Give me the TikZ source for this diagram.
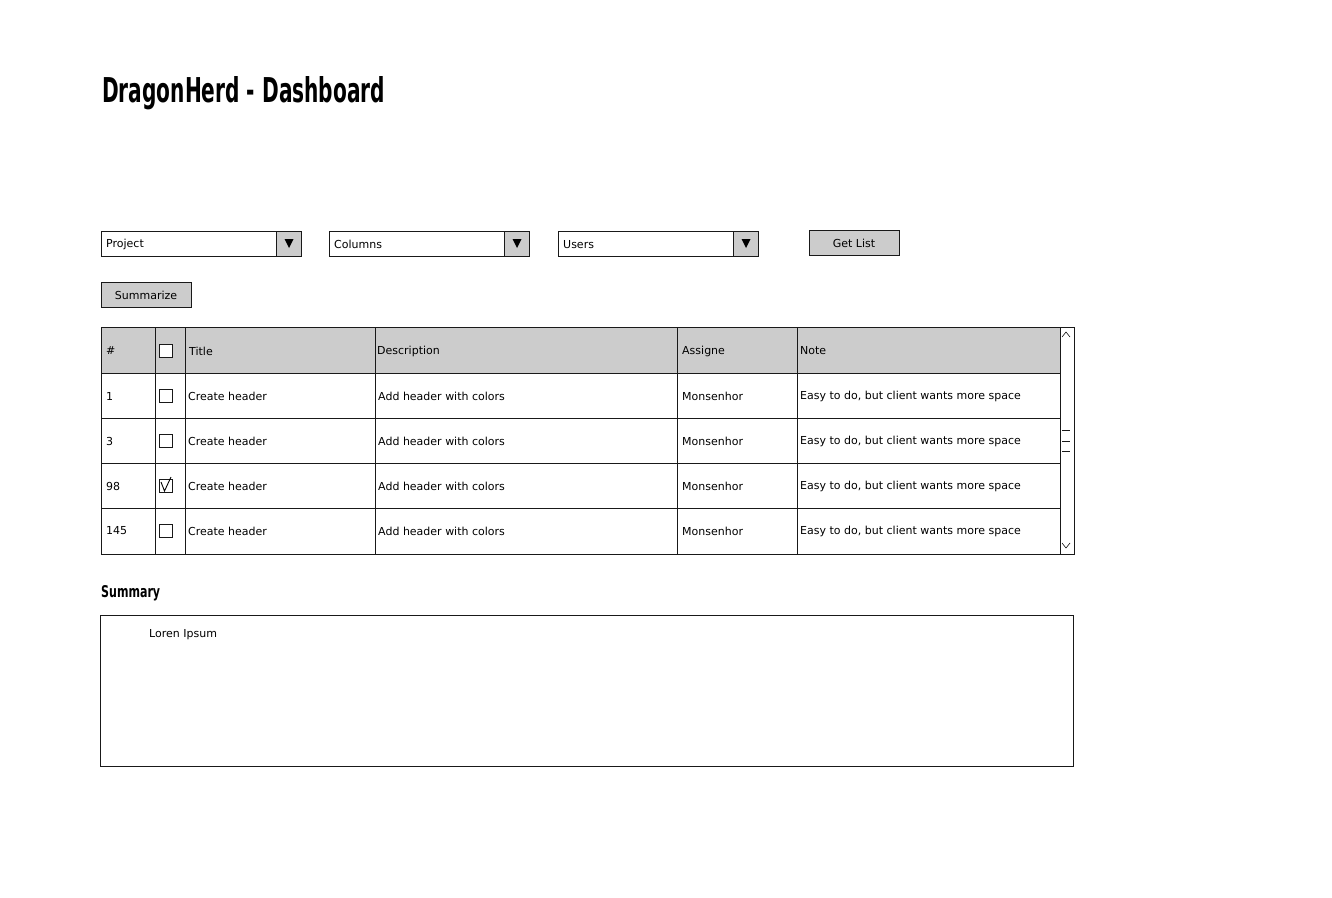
\documentclass[tikz,border=0pt]{standalone}
\usepackage{fontspec}
\setmainfont{DejaVu Sans}
\usepackage{graphicx}

\begin{document}
\begin{tikzpicture}[x=1pt,y=-1pt]
\tikzset{ui/.style={draw=black!90,line width=0.9pt},
  btnbox/.style={ui,fill=black!20,minimum width=90pt,minimum height=25pt,inner sep=0pt,font=\fontsize{11}{13}\selectfont},
  txt/.style={anchor=west,inner sep=0pt,font=\fontsize{11}{13}\selectfont},
  chkbox/.style={draw=black!90,line width=0.8pt,fill=white,minimum size=13pt,inner sep=0pt}}
\useasboundingbox (0,0) rectangle (1332,897);

\node[anchor=base west,inner sep=0pt] (title) at (102,102) {\resizebox{283pt}{26pt}{\bfseries DragonHerd - Dashboard}};

\foreach \x/\lbl/\nm in {101/Project/project,329/Columns/columns,558/Users/users}{
  \draw[ui,fill=white] (\x,231) rectangle ++(200,25);
  \draw[ui,fill=black!20] (\x+175,231) rectangle ++(25,25);
  \fill (\x+183.5,239) -- ++(9,0) -- ++(-4.5,9) -- cycle;
  \node[txt] (\nm) at (\x+5,244.5) {\lbl};
}
\node[btnbox] (getlist) at (854,243) {Get List};
\node[btnbox] (summarize) at (146,295) {Summarize};

\fill[black!20] (101,327) rectangle (1060,373);
\foreach \y in {373,418,463,508} \draw[ui] (101,\y) -- (1060,\y);
\foreach \x in {155,185,375,677,797,1060} \draw[ui] (\x,327) -- (\x,554);
\draw[ui] (101,327) rectangle (1074,554);

\node[txt] (hnum) at (106,351) {\#};
\node[chkbox] (hchk) at (166,351) {};
\node[txt] (htitle) at (189,351) {Title};
\node[txt] (hdesc) at (377,351) {Description};
\node[txt] (hassign) at (682,351) {Assigne};
\node[txt] (hnote) at (800,351) {Note};

\foreach \y/\n/\i in {396/1/a,441/3/b,486/98/c,531/145/d}{
  \node[txt] (num\i) at (106,\y) {\n};
  \node[chkbox] (chk\i) at (166,\y) {};
  \node[txt] (title\i) at (188,\y) {Create header};
  \node[txt] (desc\i) at (378,\y) {Add header with colors};
  \node[txt] (assign\i) at (682,\y) {Monsenhor};
  \node[txt] (note\i) at (800,\y) {Easy to do, but client wants more space};
}
\draw[line width=0.9pt] (161,482) -- (164.5,491) -- (171,477);

\draw[ui,line width=0.6pt] (1062,337) -- (1066,332) -- (1070,337);
\draw[ui,line width=0.6pt] (1062,543) -- (1066,548) -- (1070,543);
\foreach \y in {430,441,451} \draw[ui,line width=0.6pt] (1062,\y) -- (1070,\y);

\node[anchor=base west,inner sep=0pt] (sumlabel) at (101,597) {\resizebox{59pt}{12pt}{\bfseries Summary}};
\node[ui,anchor=north west,minimum width=973pt,minimum height=151pt,inner sep=0pt] (sumbox) at (100,615) {};
\node[txt] (lorem) at (149,634.5) {Loren Ipsum};
\end{tikzpicture}
\end{document}
